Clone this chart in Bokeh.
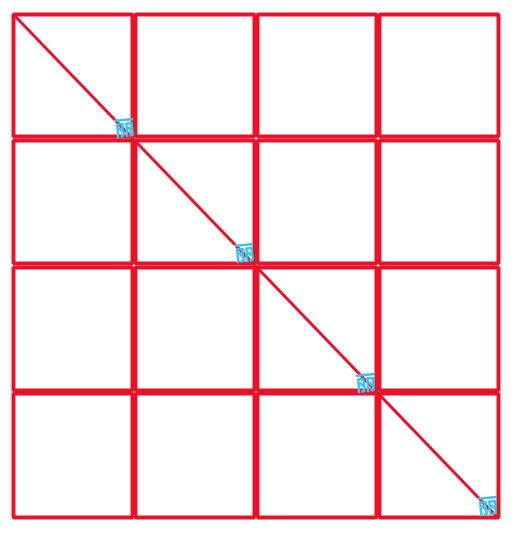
from bokeh.plotting import figure
from bokeh.models import ColumnDataSource
from bokeh.core.properties import value
from bokeh.embed import file_html
from bokeh.resources import INLINE

# cell edges, in page pixels (y grows downwards)
col_left = [13, 135, 257, 379]
col_right = [132, 254, 376, 498]
row_top = [14, 140, 267, 393]
row_bottom = [136, 263, 390, 517]

# diagonal through the grid
diag_x = [13, 497]
diag_y = [14, 517]

# hand-written marks at the diagonal crossings
mark_x = [124, 244, 365, 487]
mark_y = [126, 251, 381, 504]
mark_text = ["丽", "丽", "丽", "丽"]

RED = "#e8132b"
BLUE = "#38c4f2"

cells = {"left": [], "right": [], "top": [], "bottom": []}
for r in range(4):
    for c in range(4):
        cells["left"].append(col_left[c])
        cells["right"].append(col_right[c])
        cells["top"].append(row_top[r])
        cells["bottom"].append(row_bottom[r])

p = figure(
    width=515,
    height=536,
    x_range=(0, 515),
    y_range=(536, 0),
    output_backend="svg",
    toolbar_location=None,
    min_border=0,
)
p.axis.visible = False
p.grid.visible = False
p.outline_line_color = None
p.background_fill_color = "white"

p.quad(left="left", right="right", top="top", bottom="bottom",
       source=ColumnDataSource(cells), fill_color=None,
       line_color=RED, line_width=4)
p.line(diag_x, diag_y, line_color=RED, line_width=3)

p.text(x=mark_x, y=mark_y, text=mark_text, text_color=BLUE,
       text_font=value("Noto Sans CJK SC"), text_font_size="21px",
       text_font_style="bold", text_align="center", text_baseline="middle",
       angle=0.1)

open("out.html", "w").write(file_html(p, INLINE))
